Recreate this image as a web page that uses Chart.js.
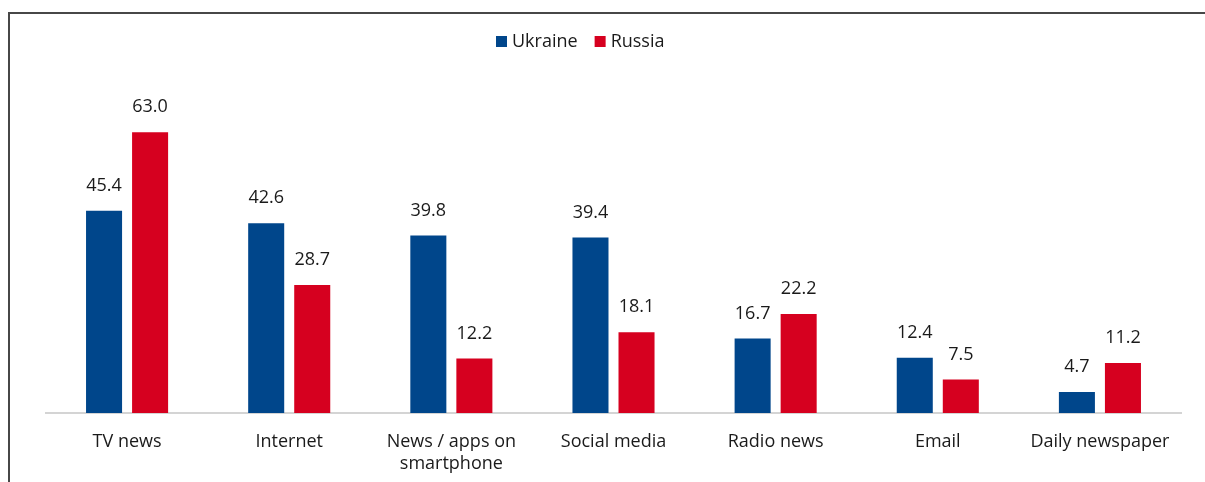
<!DOCTYPE html>
<html>
<head>
<meta charset="utf-8">
<script src="https://cdn.jsdelivr.net/npm/chart.js@4.4.1/dist/chart.umd.min.js"></script>
<style>
  html, body { margin: 0; padding: 0; background: #fff; }
  #wrap { position: relative; width: 1205px; height: 482px; overflow: hidden; }
  #frame { position: absolute; left: 8px; top: 12px; width: 1200px; height: 480px;
           border-top: 2px solid #474747; border-left: 2px solid #474747; box-sizing: border-box; }
  canvas { position: absolute; left: 0; top: 0; }
</style>
</head>
<body>
<div id="wrap">
  <div id="frame"></div>
  <canvas id="c" width="1205" height="482"></canvas>
</div>
<script>
const categories = ["TV news", "Internet", ["News / apps on", "smartphone"], "Social media", "Radio news", "Email", "Daily newspaper"];
const ukraine = [45.4, 42.6, 39.8, 39.4, 16.7, 12.4, 4.7];
const russia = [63.0, 28.7, 12.2, 18.1, 22.2, 7.5, 11.2];
const seriesNames = ["Ukraine", "Russia"];
const colors = ["#00468B", "#D6001F"];

const FONT = "'Open Sans', 'Noto Sans', sans-serif";

const valueLabels = {
  id: 'valueLabels',
  afterDatasetsDraw(chart) {
    const ctx = chart.ctx;
    ctx.save();
    ctx.font = "18px " + FONT;
    ctx.fillStyle = "#1a1a1a";
    ctx.textAlign = "center";
    ctx.textBaseline = "middle";
    chart.data.datasets.forEach((ds, i) => {
      chart.getDatasetMeta(i).data.forEach((bar, j) => {
        ctx.fillText(ds.data[j].toFixed(1), bar.x, bar.y - 25);
      });
    });
    ctx.restore();
  }
};

const customLegend = {
  id: 'customLegend',
  afterDraw(chart) {
    const ctx = chart.ctx;
    ctx.save();
    ctx.font = "18px " + FONT;
    ctx.textBaseline = "middle";
    ctx.textAlign = "left";
    let x = 496;
    const y = 42;
    chart.data.datasets.forEach((ds) => {
      ctx.fillStyle = ds.backgroundColor;
      ctx.fillRect(x, y - 6, 11, 11);
      ctx.fillStyle = "#1a1a1a";
      ctx.fillText(ds.label, x + 16, y);
      x += 16 + ctx.measureText(ds.label).width + 17;
    });
    ctx.restore();
  }
};

new Chart(document.getElementById('c'), {
  type: 'bar',
  data: {
    labels: categories,
    datasets: [
      { label: seriesNames[0], data: ukraine, backgroundColor: colors[0] },
      { label: seriesNames[1], data: russia, backgroundColor: colors[1] }
    ]
  },
  options: {
    responsive: false,
    animation: false,
    events: [],
    layout: { padding: { left: 46, right: 24, top: 101, bottom: 0 } },
    datasets: { bar: { categoryPercentage: 92 / 162, barPercentage: 36 / 46 } },
    plugins: { legend: { display: false }, tooltip: { enabled: false } },
    scales: {
      x: {
        grid: { display: false, drawTicks: false },
        border: { display: true, color: "#d4d4d4", width: 2 },
        ticks: { color: "#1a1a1a", font: { family: FONT, size: 18 }, padding: 18, maxRotation: 0, autoSkip: false },
        afterFit(scale) { scale.height = 69; }
      },
      y: {
        display: false,
        min: 0, max: 70
      }
    }
  },
  plugins: [valueLabels, customLegend]
});
</script>
</body>
</html>
